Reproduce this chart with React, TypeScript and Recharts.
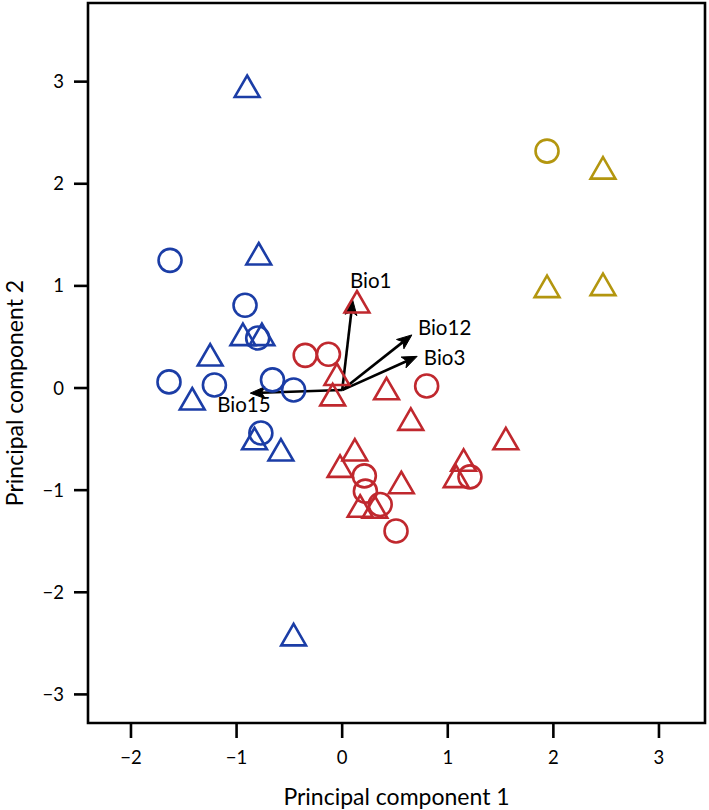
import React from "react";
import {
  ScatterChart,
  Scatter,
  XAxis,
  YAxis,
  ReferenceArea,
  ReferenceLine,
} from "recharts";

// scores, [PC1, PC2]
const blueCircles = [
  [-1.63, 1.25], [-0.92, 0.81], [-0.8, 0.49], [-1.64, 0.06],
  [-1.21, 0.03], [-0.66, 0.08], [-0.46, -0.02], [-0.77, -0.44],
];
const blueTriangles = [
  [-0.9, 2.92], [-0.79, 1.28], [-0.94, 0.49], [-0.76, 0.49], [-1.25, 0.29],
  [-1.42, -0.14], [-0.83, -0.53], [-0.58, -0.64], [-0.46, -2.45],
];
const redCircles = [
  [-0.35, 0.32], [-0.13, 0.33], [0.8, 0.02], [0.21, -0.86],
  [0.22, -1.01], [0.36, -1.14], [0.51, -1.4], [1.21, -0.87],
];
const redTriangles = [
  [0.14, 0.81], [-0.05, 0.1], [-0.09, -0.1], [0.42, -0.04], [0.65, -0.34],
  [1.55, -0.53], [0.12, -0.64], [-0.02, -0.8], [0.56, -0.96], [0.17, -1.19],
  [0.31, -1.2], [1.15, -0.74], [1.08, -0.9],
];
const goldCircles = [[1.94, 2.32]];
const goldTriangles = [[2.47, 2.12], [1.94, 0.96], [2.47, 0.98]];

// loadings arrows
const arrowNames = ["Bio1", "Bio12", "Bio3", "Bio15"];
const arrowTips = [[0.1, 0.86], [0.66, 0.52], [0.71, 0.31], [-0.87, -0.05]];
const arrowLabelPos = [[0.27, 1.06], [0.97, 0.6], [0.97, 0.3], [-0.93, -0.16]];
const arrowOrigin = [0, -0.02];

const xTicks = [-2, -1, 0, 1, 2, 3];
const yTicks = [-3, -2, -1, 0, 1, 2, 3];
const xDomain = [-2.407, 3.436];
const yDomain = [-3.28, 3.77];

const BLUE = "#1b3da6";
const RED = "#c0282e";
const GOLD = "#b3960f";
const FONT = "Lato, 'Open Sans', sans-serif";

const toPts = (arr: number[][]) => arr.map(([x, y]) => ({ x, y }));

const circleShape = (color: string) => (p: any) => (
  <circle cx={p.cx} cy={p.cy} r={11.5} fill="none" stroke={color} strokeWidth={2.6} />
);

const triangleShape = (color: string) => (p: any) => {
  const s = 9.2;
  const r = 1.555 * s;
  const xc = 1.347 * s;
  const yc = 0.778 * s;
  const pts = `${p.cx},${p.cy - r} ${p.cx + xc},${p.cy + yc} ${p.cx - xc},${p.cy + yc}`;
  return <polygon points={pts} fill="none" stroke={color} strokeWidth={2.6} strokeLinejoin="miter" />;
};

const arrowShape = (p: any) => {
  const { x1, y1, x2, y2 } = p;
  const ang = Math.atan2(y2 - y1, x2 - x1);
  const len = 16;
  const spread = 0.38;
  const ax = x2 - len * Math.cos(ang - spread);
  const ay = y2 - len * Math.sin(ang - spread);
  const bx = x2 - len * Math.cos(ang + spread);
  const by = y2 - len * Math.sin(ang + spread);
  const nx = x2 - len * 0.7 * Math.cos(ang);
  const ny = y2 - len * 0.7 * Math.sin(ang);
  return (
    <g>
      <line x1={x1} y1={y1} x2={nx} y2={ny} stroke="#000" strokeWidth={2.6} />
      <polygon points={`${x2},${y2} ${ax},${ay} ${nx},${ny} ${bx},${by}`} fill="#000" stroke="#000" strokeWidth={1} />
    </g>
  );
};

const labelData = arrowLabelPos.map(([x, y], i) => ({ x, y, name: arrowNames[i] }));

const labelShape = (p: any) => (
  <text
    x={p.cx}
    y={p.cy}
    textAnchor="middle"
    dominantBaseline="central"
    fontSize={20.5}
    fontFamily={FONT}
    fill="#000"
  >
    {p.payload.name}
  </text>
);

const yTitle = (props: any) => {
  const vb = props.viewBox;
  const x = 14;
  const y = vb.y + vb.height / 2 + 30;
  return (
    <text
      x={x}
      y={y}
      transform={`rotate(-90 ${x} ${y})`}
      textAnchor="middle"
      dominantBaseline="central"
      fontSize={23}
      fontFamily={FONT}
      fill="#000"
    >
      Principal component 2
    </text>
  );
};

const fmt = (v: number) => String(v).replace("-", "\u2212");

export default function App() {
  return (
    <div style={{ width: 709, height: 810, background: "#fff" }}>
      <style>{"body{margin:0;}"}</style>
      <ScatterChart
        width={709}
        height={810}
        margin={{ top: 3, right: 4, bottom: 0, left: 0 }}
        style={{ fontFamily: FONT }}
      >
        <XAxis
          type="number"
          dataKey="x"
          domain={xDomain}
          ticks={xTicks}
          allowDataOverflow
          height={87}
          axisLine={false}
          tickSize={15}
          tickMargin={13}
          tickLine={{ stroke: "#000", strokeWidth: 2.6 }}
          tick={{ fill: "#000", fontSize: 18.5, fontFamily: FONT }}
          tickFormatter={fmt}
          label={{
            value: "Principal component 1",
            position: "insideBottom",
            offset: 5,
            fill: "#000",
            fontSize: 23,
            fontFamily: FONT,
          }}
        />
        <YAxis
          type="number"
          dataKey="y"
          domain={yDomain}
          ticks={yTicks}
          allowDataOverflow
          width={88}
          axisLine={false}
          tickSize={14}
          tickMargin={10}
          tickLine={{ stroke: "#000", strokeWidth: 2.6 }}
          tick={{ fill: "#000", fontSize: 18.5, fontFamily: FONT }}
          tickFormatter={fmt}
          label={{ value: "Principal component 2", content: yTitle }}
        />
        <ReferenceArea
          x1={xDomain[0]}
          x2={xDomain[1]}
          y1={yDomain[0]}
          y2={yDomain[1]}
          fill="none"
          fillOpacity={0}
          stroke="#000"
          strokeWidth={2.6}
        />
        <Scatter data={toPts(blueCircles)} shape={circleShape(BLUE)} isAnimationActive={false} />
        <Scatter data={toPts(blueTriangles)} shape={triangleShape(BLUE)} isAnimationActive={false} />
        <Scatter data={toPts(redCircles)} shape={circleShape(RED)} isAnimationActive={false} />
        <Scatter data={toPts(redTriangles)} shape={triangleShape(RED)} isAnimationActive={false} />
        <Scatter data={toPts(goldCircles)} shape={circleShape(GOLD)} isAnimationActive={false} />
        <Scatter data={toPts(goldTriangles)} shape={triangleShape(GOLD)} isAnimationActive={false} />
        {arrowTips.map(([x, y], i) => (
          <ReferenceLine
            key={arrowNames[i]}
            segment={[
              { x: arrowOrigin[0], y: arrowOrigin[1] },
              { x, y },
            ]}
            shape={arrowShape}
          />
        ))}
        <Scatter data={labelData} shape={labelShape} isAnimationActive={false} />
      </ScatterChart>
    </div>
  );
}
